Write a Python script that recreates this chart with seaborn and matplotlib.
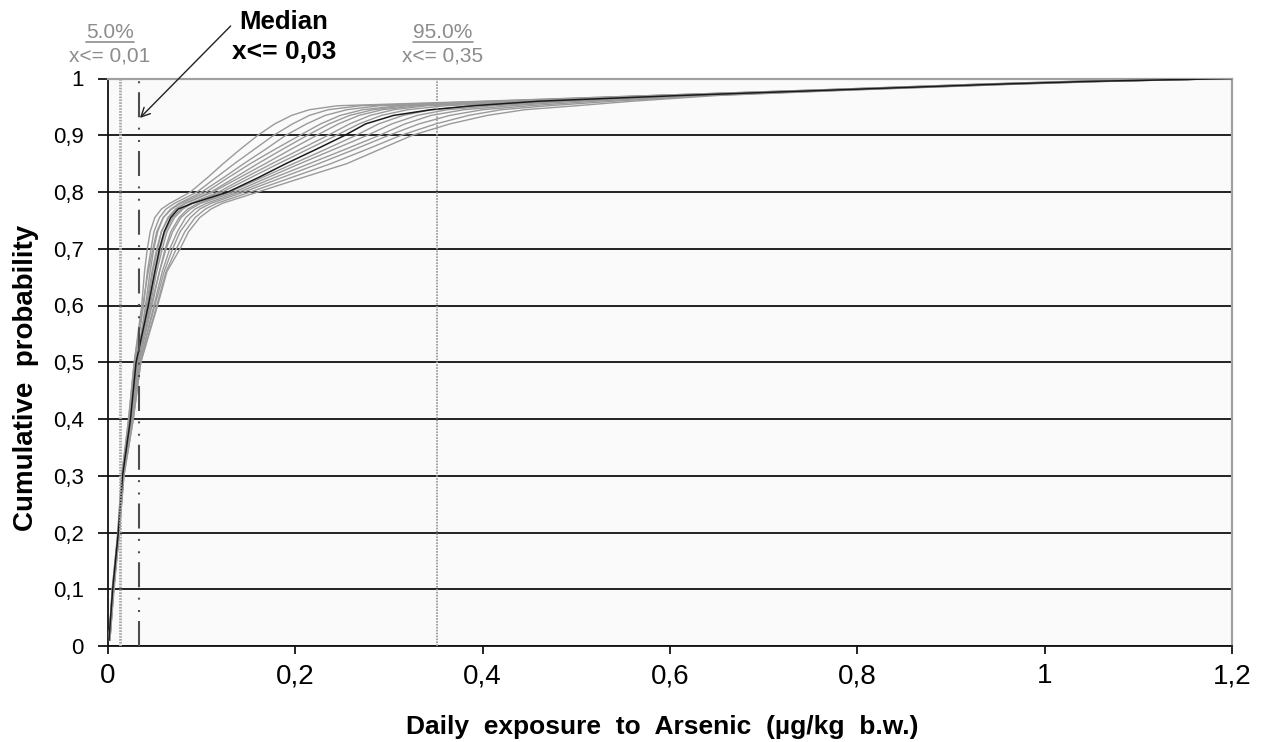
import matplotlib
matplotlib.use("Agg")
import matplotlib.pyplot as plt
import numpy as np
import pandas as pd
import seaborn as sns
from matplotlib.lines import Line2D

# Cumulative probability levels at which every iteration's exposure is given
PROBS = [0.01, 0.1, 0.2, 0.3, 0.4, 0.5, 0.6, 0.66, 0.7, 0.73, 0.755, 0.77, 0.78,
         0.8, 0.825, 0.85, 0.875, 0.9, 0.92, 0.935, 0.945, 0.952, 0.96,
         0.97, 0.98, 0.99, 0.995, 1.0]

# Daily exposure (µg/kg b.w.) per simulation iteration at each level in PROBS
iter_01 = [0.001, 0.0045, 0.0105, 0.0145, 0.022, 0.028, 0.036, 0.039, 0.042, 0.045, 0.050, 0.057, 0.066,
           0.088, 0.106, 0.123, 0.141, 0.160, 0.178, 0.196, 0.215, 0.245, 0.40,
           0.58, 0.76, 0.93, 1.03, 1.2]
iter_02 = [0.001, 0.005, 0.011, 0.015, 0.023, 0.029, 0.038, 0.042, 0.046, 0.049, 0.055, 0.062, 0.071,
           0.095, 0.115, 0.135, 0.156, 0.177, 0.197, 0.215, 0.235, 0.270, 0.41,
           0.58, 0.76, 0.93, 1.03, 1.2]
iter_03 = [0.0015, 0.0055, 0.0115, 0.0155, 0.024, 0.031, 0.040, 0.045, 0.049, 0.053, 0.059, 0.067, 0.076,
           0.100, 0.123, 0.145, 0.168, 0.190, 0.212, 0.232, 0.255, 0.290, 0.42,
           0.59, 0.765, 0.935, 1.035, 1.2]
iter_04 = [0.001, 0.005, 0.011, 0.015, 0.022, 0.028, 0.037, 0.043, 0.048, 0.052, 0.059, 0.068, 0.078,
           0.105, 0.128, 0.152, 0.178, 0.205, 0.227, 0.248, 0.272, 0.310, 0.43,
           0.59, 0.77, 0.94, 1.04, 1.2]
iter_05 = [0.0015, 0.006, 0.012, 0.016, 0.025, 0.032, 0.042, 0.048, 0.053, 0.057, 0.064, 0.072, 0.082,
           0.110, 0.135, 0.160, 0.186, 0.213, 0.236, 0.258, 0.283, 0.320, 0.44,
           0.60, 0.77, 0.94, 1.04, 1.2]
iter_06 = [0.001, 0.0045, 0.0105, 0.0145, 0.023, 0.030, 0.041, 0.047, 0.052, 0.057, 0.065, 0.073, 0.083,
           0.112, 0.140, 0.168, 0.195, 0.223, 0.246, 0.268, 0.293, 0.330, 0.44,
           0.60, 0.775, 0.945, 1.045, 1.2]
iter_07 = [0.002, 0.006, 0.0115, 0.016, 0.025, 0.032, 0.044, 0.051, 0.056, 0.061, 0.069, 0.078, 0.088,
           0.118, 0.146, 0.175, 0.205, 0.235, 0.258, 0.280, 0.305, 0.340, 0.45,
           0.61, 0.775, 0.945, 1.045, 1.2]
iter_08 = [0.001, 0.005, 0.011, 0.015, 0.024, 0.031, 0.045, 0.052, 0.058, 0.063, 0.071, 0.080, 0.090,
           0.122, 0.152, 0.182, 0.213, 0.244, 0.268, 0.292, 0.320, 0.360, 0.46,
           0.61, 0.78, 0.95, 1.05, 1.2]
iter_09 = [0.0015, 0.0055, 0.0115, 0.016, 0.025, 0.033, 0.047, 0.055, 0.061, 0.067, 0.076, 0.085, 0.096,
           0.130, 0.164, 0.198, 0.232, 0.265, 0.289, 0.315, 0.345, 0.390, 0.48,
           0.62, 0.78, 0.95, 1.05, 1.2]
iter_10 = [0.001, 0.005, 0.011, 0.0155, 0.024, 0.032, 0.046, 0.055, 0.062, 0.069, 0.078, 0.088, 0.099,
           0.135, 0.170, 0.205, 0.241, 0.277, 0.303, 0.330, 0.362, 0.410, 0.49,
           0.62, 0.785, 0.955, 1.055, 1.2]
iter_11 = [0.002, 0.006, 0.012, 0.0165, 0.026, 0.034, 0.049, 0.058, 0.066, 0.074, 0.083, 0.093, 0.105,
           0.140, 0.177, 0.215, 0.253, 0.290, 0.317, 0.345, 0.380, 0.430, 0.50,
           0.63, 0.79, 0.96, 1.06, 1.2]
iter_12 = [0.0015, 0.0055, 0.0115, 0.016, 0.026, 0.034, 0.050, 0.060, 0.069, 0.077, 0.088, 0.098, 0.110,
           0.145, 0.185, 0.225, 0.263, 0.300, 0.332, 0.365, 0.400, 0.450, 0.52,
           0.63, 0.79, 0.96, 1.06, 1.2]
iter_13 = [0.002, 0.006, 0.012, 0.017, 0.027, 0.035, 0.052, 0.062, 0.073, 0.082, 0.093, 0.104, 0.116,
           0.152, 0.195, 0.238, 0.276, 0.313, 0.350, 0.385, 0.420, 0.470, 0.54,
           0.64, 0.795, 0.965, 1.065, 1.2]
iter_14 = [0.002, 0.0065, 0.012, 0.017, 0.027, 0.035, 0.053, 0.063, 0.077, 0.086, 0.098, 0.110, 0.122,
           0.160, 0.207, 0.255, 0.290, 0.325, 0.365, 0.405, 0.445, 0.500, 0.56,
           0.65, 0.80, 0.97, 1.07, 1.2]

# Central (median) iteration
median_iter = [0.001, 0.005, 0.011, 0.0155, 0.024, 0.030, 0.043, 0.050, 0.055, 0.060, 0.067, 0.075, 0.090,
               0.128, 0.160, 0.190, 0.222, 0.253, 0.275, 0.305, 0.345, 0.390, 0.46,
               0.61, 0.78, 0.95, 1.05, 1.2]

ITERATIONS = [iter_01, iter_02, iter_03, iter_04, iter_05, iter_06, iter_07,
              iter_08, iter_09, iter_10, iter_11, iter_12, iter_13, iter_14]

# Percentile markers (percent, exposure value)
P5_LEVEL, P5_VALUE = 5.0, 0.0125
MEDIAN_VALUE = 0.033
P95_LEVEL, P95_VALUE = 95.0, 0.351

X_TICKS = [0, 0.2, 0.4, 0.6, 0.8, 1.0, 1.2]
Y_TICKS = [0, 0.1, 0.2, 0.3, 0.4, 0.5, 0.6, 0.7, 0.8, 0.9, 1.0]

X_LABEL = "Daily  exposure  to  Arsenic  (µg/kg  b.w.)"
Y_LABEL = "Cumulative  probability"


def comma(v):
    s = f"{v:g}"
    return s.replace(".", ",")


sns.set_theme(style="white")
plt.rcParams["font.family"] = ["Liberation Sans", "DejaVu Sans"]
plt.rcParams["lines.scale_dashes"] = False
plt.rcParams["text.color"] = "black"

W, H = 1267, 742
fig = plt.figure(figsize=(W / 100, H / 100), dpi=100)
ax = fig.add_axes([108 / W, 1 - 646 / H, 1124 / W, 567.5 / H])
ax.set_facecolor("#fafafa")

gray_df = pd.DataFrame(
    [(i, x, p) for i, xs in enumerate(ITERATIONS) for x, p in zip(xs, PROBS)],
    columns=["iteration", "exposure", "prob"],
)
median_df = pd.DataFrame({"exposure": median_iter, "prob": PROBS})

sns.lineplot(data=gray_df, x="exposure", y="prob", units="iteration",
             estimator=None, sort=False, color="#9a9a9a", linewidth=1.0,
             ax=ax, zorder=3, legend=False)
sns.lineplot(data=median_df, x="exposure", y="prob", estimator=None,
             sort=False, color="#1a1a1a", linewidth=1.1, ax=ax, zorder=4)

# percentile reference lines
ax.axvline(P5_VALUE, color="#a8a8a8", linewidth=2.0,
           linestyle=(0, (1.2, 0.9)), zorder=5)
ax.axvline(P95_VALUE, color="#9a9a9a", linewidth=1.3,
           linestyle=(0, (1.2, 0.9)), zorder=5)
ax.axvline(MEDIAN_VALUE, color="#4d4d4d", linewidth=1.5,
           linestyle=(0, (18, 6.5, 1.4, 7.5, 1.4, 7.5)), zorder=5)

ax.set_xlim(0, 1.2)
ax.set_ylim(0, 1.0)
ax.set_xticks(X_TICKS)
ax.set_yticks(Y_TICKS)
ax.set_xticklabels([comma(v) for v in X_TICKS])
ax.set_yticklabels([comma(v) for v in Y_TICKS])
ax.tick_params(axis="x", labelsize=20, colors="black", direction="out",
               length=5.5, width=1.2, pad=7, bottom=True)
ax.tick_params(axis="y", labelsize=16, colors="black", direction="out",
               length=7.5, width=1.2, pad=10, left=True)

ax.yaxis.grid(True, color="#111111", linewidth=1.3, zorder=1)
ax.get_ygridlines()[-1].set_visible(False)
ax.set_axisbelow(True)

for side in ("left", "bottom"):
    ax.spines[side].set_color("#111111")
    ax.spines[side].set_linewidth(1.3)
for side in ("top", "right"):
    ax.spines[side].set_color("#a0a0a0")
    ax.spines[side].set_linewidth(1.6)

ax.set_xlabel("")
ax.set_ylabel("")
fig.text(662 / W, 1 - 727 / H, X_LABEL, ha="center", va="center",
         fontsize=19, fontweight="bold", color="black")
fig.text(26 / W, 1 - 378 / H, Y_LABEL, ha="center", va="center",
         rotation=90, fontsize=20, fontweight="bold", color="black")

# median annotation with arrow
ax.annotate("", xy=(0.032, 0.927), xytext=(0.133, 1.096),
            arrowprops=dict(arrowstyle="->", color="#222222", lw=1.0,
                            mutation_scale=16),
            annotation_clip=False)
fig.text(284 / W, 1 - 22 / H, "Median", ha="center", va="center",
         fontsize=18.5, fontweight="bold", color="black")
fig.text(284 / W, 1 - 52 / H, f"x<= {comma(round(MEDIAN_VALUE, 2))}",
         ha="center", va="center", fontsize=19, fontweight="bold",
         color="black")

# percentile labels
label_color = "#8c8c8c"
pct_texts = []
for cx, lvl, val in ((110, P5_LEVEL, P5_VALUE), (443, P95_LEVEL, P95_VALUE)):
    t = fig.text(cx / W, 1 - 32 / H, f"{lvl:.1f}%", ha="center", va="center",
                 fontsize=15, color=label_color)
    pct_texts.append(t)
    fig.text(cx / W, 1 - 56 / H, f"x<= {val:.2f}".replace(".", ","),
             ha="center", va="center", fontsize=15, color=label_color)

fig.canvas.draw()
renderer = fig.canvas.get_renderer()
for t in pct_texts:
    bb = t.get_window_extent(renderer)
    yline = H - 42
    fig.add_artist(Line2D([bb.x0, bb.x1], [yline, yline], transform=None,
                          color=label_color, linewidth=1.2))

fig.savefig("out.png", dpi=100, facecolor="white")
